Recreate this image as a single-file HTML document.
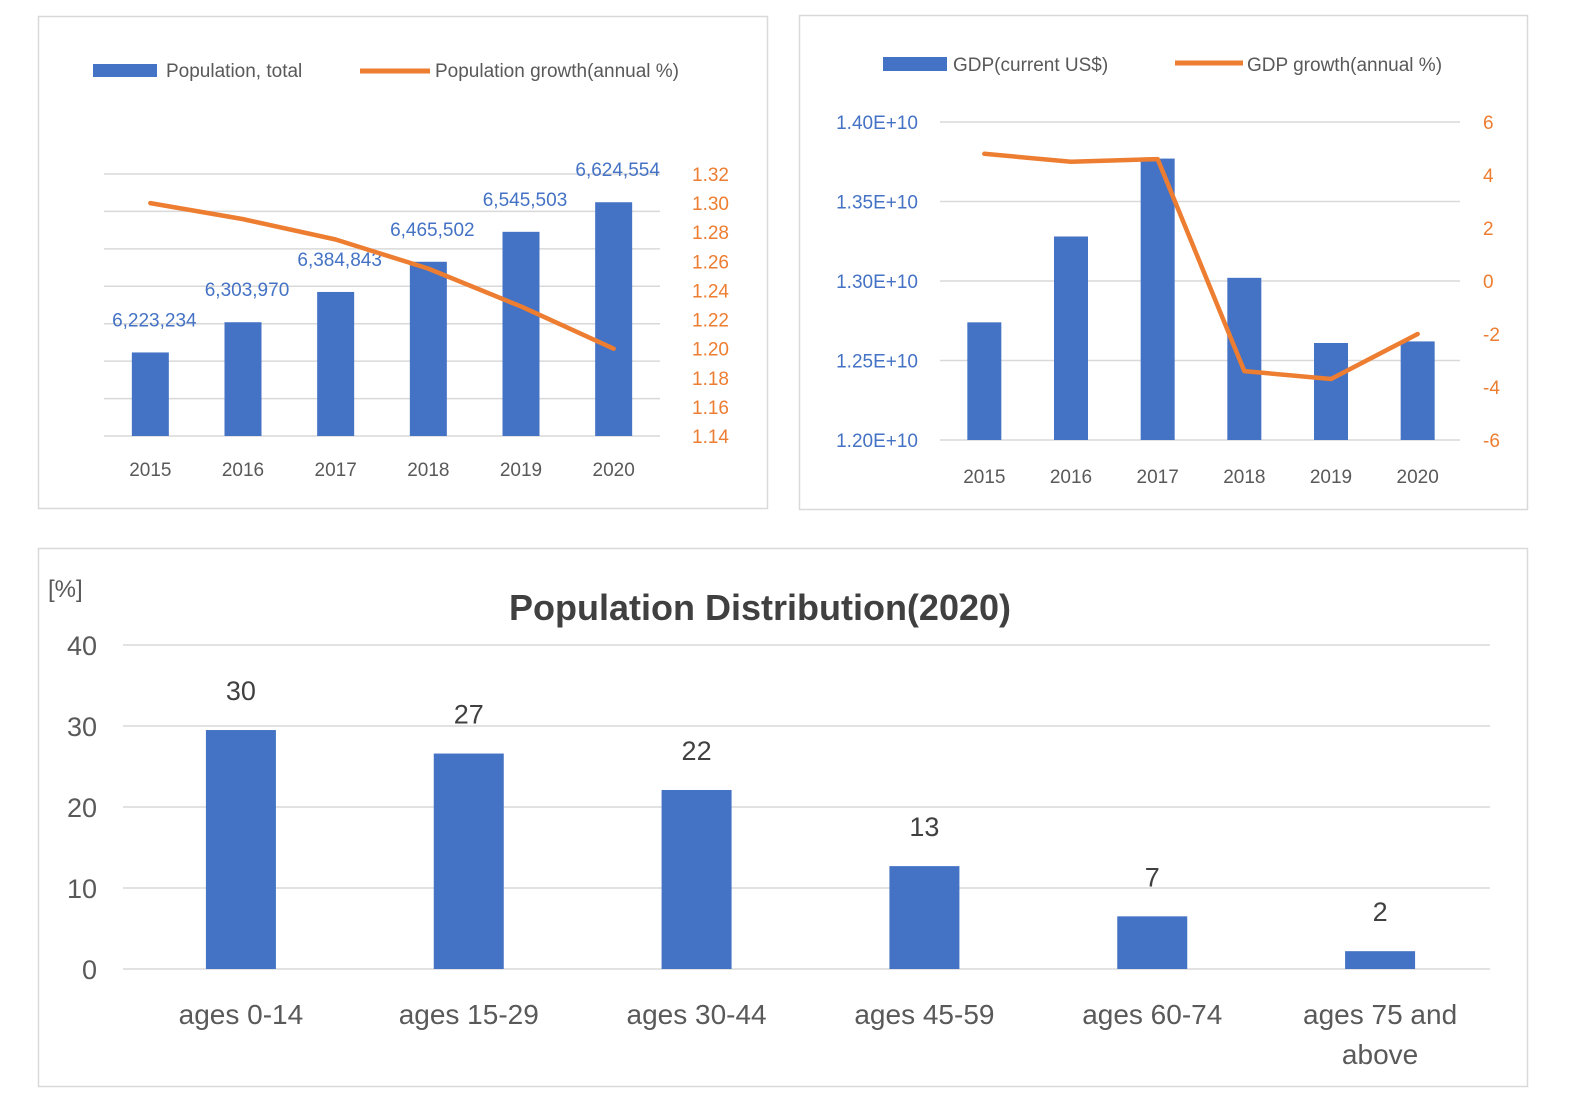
<!DOCTYPE html>
<html><head><meta charset="utf-8">
<style>
html,body{margin:0;padding:0;background:#fff;}
svg{display:block;font-family:"Liberation Sans","Noto Sans CJK KR",sans-serif;}
</style></head>
<body>
<svg id="svg" width="1593" height="1118" viewBox="0 0 1593 1118" xmlns="http://www.w3.org/2000/svg">
<rect x="0" y="0" width="1593" height="1118" fill="#fff"/>
<rect x="38.5" y="16.5" width="729" height="492" fill="#fff" stroke="#d9d9d9" stroke-width="1.5"/>
<rect x="799.5" y="15.5" width="728" height="494" fill="#fff" stroke="#d9d9d9" stroke-width="1.5"/>
<rect x="38.5" y="548.5" width="1489" height="538" fill="#fff" stroke="#d9d9d9" stroke-width="1.5"/>
<g id="c1"></g><g id="c2"></g><g id="c3"></g>
</svg>
<script>
// ---- Chart 1 data ----
const years = ["2015","2016","2017","2018","2019","2020"];
const popTotal = [6223234, 6303970, 6384843, 6465502, 6545503, 6624554];
const popGrowth = [1.300, 1.289, 1.275, 1.255, 1.229, 1.200];
const popRightTicks = ["1.14","1.16","1.18","1.20","1.22","1.24","1.26","1.28","1.30","1.32"];
// ---- Chart 2 data ----
const gdpValues = [1.274e10, 1.328e10, 1.377e10, 1.302e10, 1.261e10, 1.262e10];
const gdpGrowth = [4.8, 4.5, 4.6, -3.4, -3.7, -2.0];
const gdpLeftTicks = ["1.20E+10","1.25E+10","1.30E+10","1.35E+10","1.40E+10"];
const gdpRightTicks = ["-6","-4","-2","0","2","4","6"];
// ---- Chart 3 data ----
const ageGroups = [["ages 0-14"],["ages 15-29"],["ages 30-44"],["ages 45-59"],["ages 60-74"],["ages 75 and","above"]];
const ageShares = [29.5, 26.6, 22.1, 12.7, 6.5, 2.2];
const ageTicks = ["0","10","20","30","40"];

const NS="http://www.w3.org/2000/svg";
function mk(parent,tag,attrs,text){const e=document.createElementNS(NS,tag);for(const k in attrs)e.setAttribute(k,attrs[k]);if(text!==undefined)e.textContent=text;parent.appendChild(e);return e;}
const BLUE="#4472c4",ORANGE="#ed7d31",GRID="#d9d9d9",GRAY="#595959";

// ===== Chart 1 =====
(function(){
  const g=document.getElementById('c1');
  const x0=104,x1=660,yb=436,yt=174;
  const popMin=6000000,popMax=6700000;
  const yL=v=>yb-(v-popMin)/(popMax-popMin)*(yb-yt);
  const rMin=1.14,rMax=1.32;
  const yR=v=>yb-(v-rMin)/(rMax-rMin)*(yb-yt);
  const step=(x1-x0)/years.length;
  const xc=i=>x0+step*(i+0.5);
  for(let k=0;k<=7;k++){const v=popMin+k*100000;const y=yL(v);
    const l=mk(g,'line',{x1:x0,x2:x1,y1:y,y2:y,stroke:GRID,'stroke-width':1.5});
    
    }
  popRightTicks.forEach(t=>{const e=mk(g,'text',{x:692,y:yR(parseFloat(t))+7,fill:ORANGE,'font-size':19},t);
    
    });
  popTotal.forEach((v,i)=>{const bw=37;
    const r=mk(g,'rect',{x:xc(i)-bw/2,y:yL(v),width:bw,height:yb-yL(v),fill:BLUE});
    
    
    const t=mk(g,'text',{x:xc(i)+4,y:yL(v)-26,fill:BLUE,'font-size':19,'text-anchor':'middle'},v.toLocaleString('en-US'));
    
    
    const yt2=mk(g,'text',{x:xc(i),y:476,fill:GRAY,'font-size':19,'text-anchor':'middle'},years[i]);
    
    });
  const pl=mk(g,'polyline',{points:popGrowth.map((v,i)=>xc(i)+','+yR(v)).join(' '),fill:'none',stroke:ORANGE,'stroke-width':4.5,'stroke-linejoin':'round','stroke-linecap':'round'});
  
  
  const lg=mk(g,'g',{});
  
  
  mk(lg,'rect',{x:93,y:64,width:64,height:13,fill:BLUE});
  mk(lg,'text',{x:166,y:77,fill:GRAY,'font-size':19},'Population, total');
  mk(lg,'line',{x1:360,x2:430,y1:71,y2:71,stroke:ORANGE,'stroke-width':5});
  mk(lg,'text',{x:435,y:77,fill:GRAY,'font-size':19},'Population growth(annual %)');
})();

// ===== Chart 2 =====
(function(){
  const g=document.getElementById('c2');
  const x0=940,x1=1460,yb=440,yt=122;
  const lMin=1.20e10,lMax=1.40e10;
  const yL=v=>yb-(v-lMin)/(lMax-lMin)*(yb-yt);
  const rMin=-6,rMax=6;
  const yR=v=>yb-(v-rMin)/(rMax-rMin)*(yb-yt);
  const step=(x1-x0)/years.length;
  const xc=i=>x0+step*(i+0.5)+1;
  gdpLeftTicks.forEach(t=>{const v=parseFloat(t);const y=yL(v);
    const l=mk(g,'line',{x1:x0,x2:x1,y1:y,y2:y,stroke:GRID,'stroke-width':1.5});
    
    
    const e=mk(g,'text',{x:918,y:y+7,fill:BLUE,'font-size':19,'text-anchor':'end'},t);
    
    });
  gdpRightTicks.forEach(t=>{const e=mk(g,'text',{x:1483,y:yR(parseFloat(t))+7,fill:ORANGE,'font-size':19},t);
    
    });
  gdpValues.forEach((v,i)=>{const bw=34;
    const r=mk(g,'rect',{x:xc(i)-bw/2,y:yL(v),width:bw,height:yb-yL(v),fill:BLUE});
    
    
    const yt2=mk(g,'text',{x:xc(i),y:483,fill:GRAY,'font-size':19,'text-anchor':'middle'},years[i]);
    
    });
  const pl=mk(g,'polyline',{points:gdpGrowth.map((v,i)=>xc(i)+','+yR(v)).join(' '),fill:'none',stroke:ORANGE,'stroke-width':4.5,'stroke-linejoin':'round','stroke-linecap':'round'});
  
  
  const lg=mk(g,'g',{});
  
  
  mk(lg,'rect',{x:883,y:57,width:64,height:14,fill:BLUE});
  mk(lg,'text',{x:953,y:71,fill:GRAY,'font-size':19},'GDP(current US$)');
  mk(lg,'line',{x1:1175,x2:1243,y1:63,y2:63,stroke:ORANGE,'stroke-width':5});
  mk(lg,'text',{x:1247,y:71,fill:GRAY,'font-size':19},'GDP growth(annual %)');
})();

// ===== Chart 3 =====
(function(){
  const g=document.getElementById('c3');
  const x0=123,x1=1490,yb=969,yt=645;
  const yS=v=>yb-v/40*(yb-yt);
  const step=(x1-x0)/ageGroups.length;
  const xc=i=>x0+step*(i+0.5)+4;
  ageTicks.forEach(t=>{const y=yS(parseFloat(t));
    const l=mk(g,'line',{x1:x0,x2:x1,y1:y,y2:y,stroke:GRID,'stroke-width':1.5});
    
    
    const e=mk(g,'text',{x:97,y:y+10,fill:GRAY,'font-size':27,'text-anchor':'end'},t);
    
    });
  ageShares.forEach((v,i)=>{const bw=70;
    const r=mk(g,'rect',{x:xc(i)-bw/2,y:yS(v),width:bw,height:yb-yS(v),fill:BLUE});
    
    
    const t=mk(g,'text',{x:xc(i),y:yS(v)-30,fill:'#404040','font-size':27,'text-anchor':'middle'},String(Math.round(v)));
    
    
    ageGroups[i].forEach((ln,j)=>{const c=mk(g,'text',{x:xc(i),y:1024+j*40,fill:GRAY,'font-size':28,'text-anchor':'middle'},ln);
      
      });});
  const u=mk(g,'text',{x:48,y:597,fill:GRAY,'font-size':24},'[%]');
  
  
  const ti=mk(g,'text',{x:760,y:620,fill:'#404040','font-size':36,'font-weight':'bold','text-anchor':'middle'},'Population Distribution(2020)');
  
  
})();
</script>
</body></html>
